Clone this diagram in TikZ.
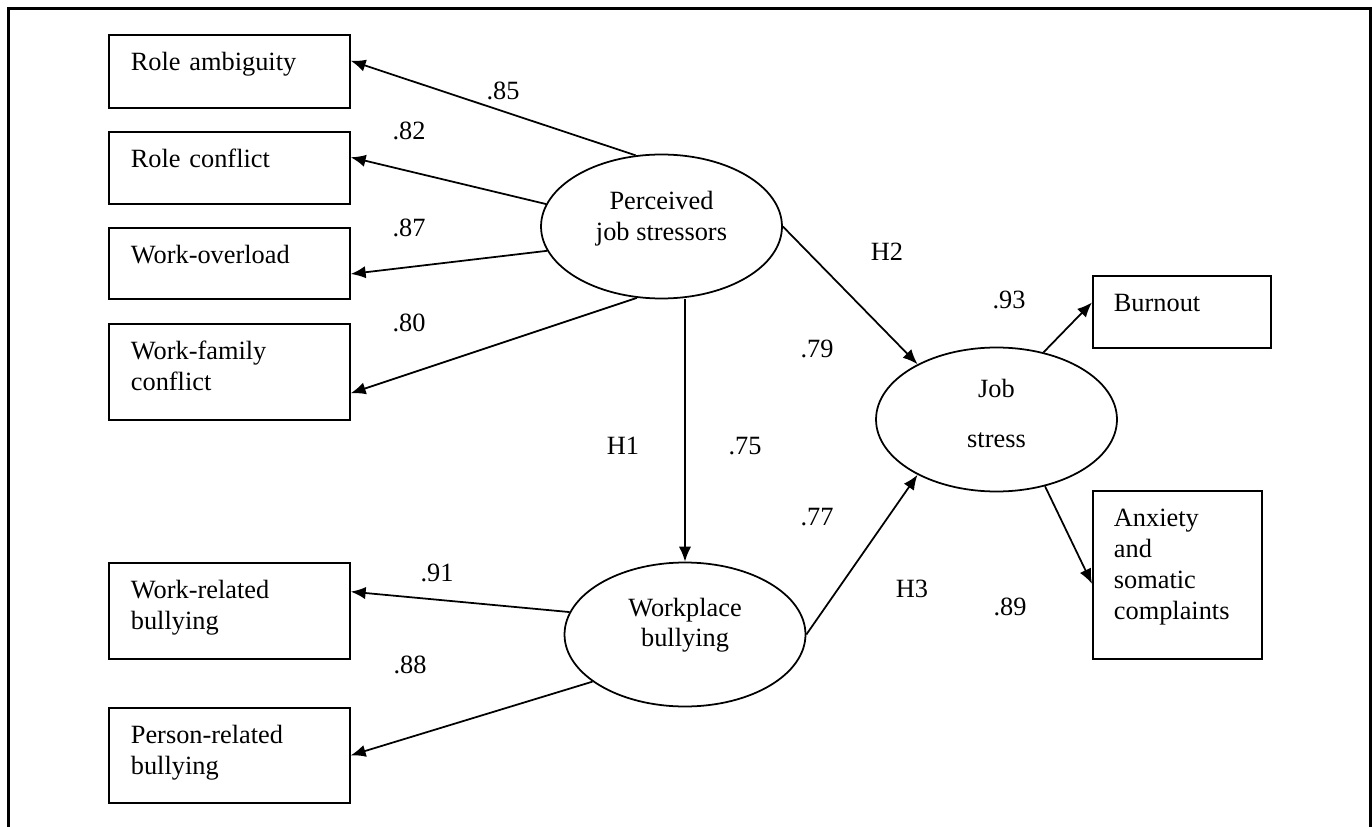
\documentclass[tikz,border=0pt]{standalone}
\usepackage{fontspec}
\setmainfont{Liberation Serif}
\usetikzlibrary{shapes.geometric,arrows.meta}

\begin{document}
\begin{tikzpicture}[x=0.02cm,y=-0.02cm,line width=1pt,font=\fontsize{15pt}{17.6pt}\selectfont]
      \tikzset{>={Latex[length=8.5pt,width=7pt]}}
      \tikzset{
        obs/.style={draw, anchor=north west, inner xsep=0.44cm, inner ysep=0pt,
          text width=3.94cm, align=left, text height=0.72cm, text depth=0.74cm},
        latent/.style={ellipse, draw, minimum width=4.82cm, minimum height=2.88cm,
          inner sep=0pt, align=center, text depth=0pt},
        coef/.style={inner sep=0pt}
      }
      \useasboundingbox (0,0) rectangle (1372,827);
      \draw[line width=1.6pt] (8.8,840) -- (8.8,8.2) -- (1370.5,8.2) -- (1370.5,840);

      \node[latent,text height=15.4pt](PJS) at (661.5,226.5) {Perceived\\job stressors};
      \node[latent,text height=32.4pt](JS) at (996.5,419.5) {Job\\[11pt]stress};
      \node[latent,text height=14.2pt](WB) at (685,634.5) {Workplace\\bullying};

      \node[obs](RA) at (108,34) {Role ambiguity};
      \node[obs,text depth=0.72cm](RC) at (108,131) {Role conflict};
      \node[obs,text depth=0.70cm](WO) at (108,227) {Work-overload};
      \node[obs,text depth=1.2cm](WF) at (108,323) {Work-family\\conflict};
      \node[obs,text depth=1.2cm](WR) at (108,562) {Work-related\\bullying};
      \node[obs,text depth=1.18cm](PR) at (108,707) {Person-related\\bullying};
      \node[obs,inner xsep=0.42cm,text width=2.72cm,text depth=0.72cm](BO) at (1092,275) {Burnout};
      \node[obs,inner xsep=0.42cm,text width=2.54cm,text depth=2.64cm](AS) at (1092,490) {Anxiety\\and\\somatic\\complaints};

      \draw [->] (PJS.110) -- (RA.5);
      \draw [->] (PJS.169) -- (RC.5);
      \draw [->] (PJS.192) -- (WO.355);
      \draw [->] (PJS.251) -- (WF.350);
      \draw [->] (WB.north |- PJS.south) -- (WB.north);
      \draw [->] (PJS.east) -- (JS.145);
      \draw [->] (WB.east) -- (JS.215);
      \draw [->] (JS.55) -- (BO.174);
      \draw [->] (JS.306) -- (AS.186);
      \draw [->] (WB.169) -- (WR.9);
      \draw [->] (WB.207) -- (PR.east);

      \node[coef](l85) at (503,91) {.85};
      \node[coef](l82) at (409,131) {.82};
      \node[coef](l87) at (409,228) {.87};
      \node[coef](l80) at (409,323) {.80};
      \node[coef](h2) at (887,252) {H2};
      \node[coef](l93) at (1009,300) {.93};
      \node[coef](l79) at (817,349) {.79};
      \node[coef](h1) at (623,446) {H1};
      \node[coef](l75) at (745,446) {.75};
      \node[coef](l77) at (817,517) {.77};
      \node[coef](l91) at (437,573) {.91};
      \node[coef](h3) at (912,589) {H3};
      \node[coef](l89) at (1010,607) {.89};
      \node[coef](l88) at (410,665) {.88};
    \end{tikzpicture}
\end{document}
